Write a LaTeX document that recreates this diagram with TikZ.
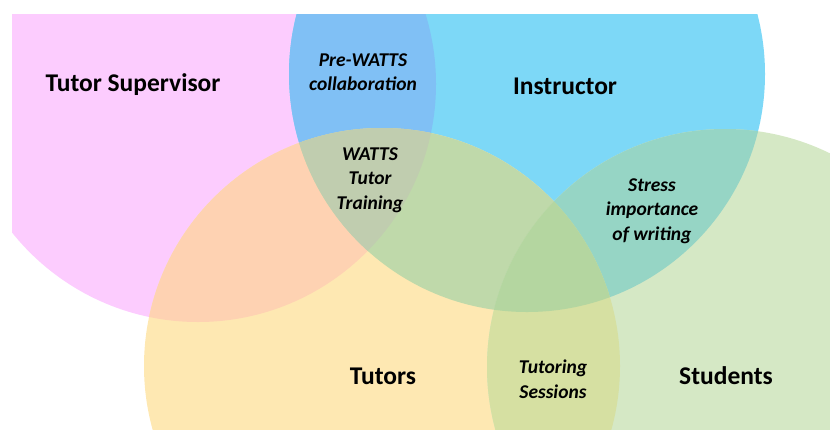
\documentclass[tikz,border=0pt]{standalone}
\usepackage{fontspec}
\setmainfont{Carlito}
\definecolor{cpink}{RGB}{252,204,254}
\definecolor{cblue}{RGB}{125,216,247}
\definecolor{cyell}{RGB}{254,232,178}
\definecolor{cgreen}{RGB}{213,232,197}
\definecolor{cpb}{RGB}{128,192,245}
\definecolor{cpy}{RGB}{254,210,178}
\definecolor{cby}{RGB}{191,217,170}
\definecolor{cbg}{RGB}{150,213,197}
\definecolor{cyg}{RGB}{214,224,162}
\definecolor{cpby}{RGB}{192,205,175}
\definecolor{cbyg}{RGB}{180,214,160}
\begin{document}
\begin{tikzpicture}[x=1pt,y=-1pt,
  biglbl/.style={font=\bfseries\fontsize{25.5}{30}\selectfont,text=black,inner sep=0pt},
  itlbl/.style={font=\bfseries\itshape\fontsize{19.5}{24.5}\selectfont,text=black,align=center,inner sep=0pt}]
\useasboundingbox (0,0) rectangle (830,429);
\def\cP{(198,84) circle[radius=238pt]}
\def\cB{(527,74) circle[radius=238pt]}
\def\cY{(382,366) circle[radius=238pt]}
\def\cG{(725,367) circle[radius=238pt]}
\begin{scope}
  \clip (12,14) rectangle (830,429);
  \fill[cpink] \cP;
  \fill[cblue] \cB;
  \fill[cyell] \cY;
  \fill[cgreen] \cG;
  \begin{scope}\clip \cP; \fill[cpb] \cB;\end{scope}
  \begin{scope}\clip \cP; \fill[cpy] \cY;\end{scope}
  \begin{scope}\clip \cB; \fill[cby] \cY;\end{scope}
  \begin{scope}\clip \cB; \fill[cbg] \cG;\end{scope}
  \begin{scope}\clip \cY; \fill[cyg] \cG;\end{scope}
  \begin{scope}\clip \cP; \clip \cB; \fill[cpby] \cY;\end{scope}
  \begin{scope}\clip \cB; \clip \cY; \fill[cbyg] \cG;\end{scope}
\end{scope}
\node[biglbl] (sup) at (133,85) {Tutor Supervisor};
\node[biglbl] (ins) at (565,86) {Instructor};
\node[biglbl] (tut) at (383,376) {Tutors};
\node[biglbl] (stu) at (726,376) {Students};
\node[itlbl] (pre) at (363,72) {Pre-WATTS\\collaboration};
\node[itlbl] (trn) at (370,180) {WATTS\\Tutor\\Training};
\node[itlbl] (str) at (652,211) {Stress\\importance\\of writing};
\node[itlbl] (ses) at (553,379) {Tutoring\\Sessions};
\end{tikzpicture}
\end{document}
